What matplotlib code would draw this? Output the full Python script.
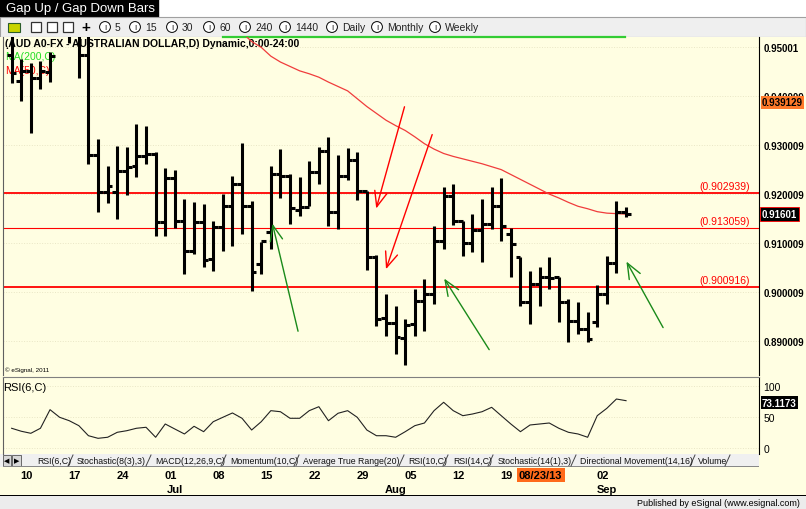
import matplotlib
matplotlib.use('Agg')
import matplotlib.pyplot as plt
import matplotlib.transforms as mtrans
from matplotlib.patches import Rectangle
import numpy as np

plt.rcParams['font.family'] = ['Liberation Sans', 'DejaVu Sans']

# daily bars, AUD/USD, Jun 6 .. Sep 4 2013 (index 0 = Jun 6)
opens = [0.9485, 0.9431, 0.9452, 0.9437, 0.9450, 0.9540, 0.9575, 0.9530, 0.9484, 0.9280,
         0.9204, 0.9204, 0.9248, 0.9257, 0.9278, 0.9282, 0.9143, 0.9233, 0.9145, 0.9084,
         0.9143, 0.9067, 0.9133, 0.9176, 0.9221, 0.9176, 0.9057, 0.9122, 0.9241, 0.9237,
         0.9167, 0.9174, 0.9245, 0.9288, 0.9163, 0.9237, 0.9270, 0.9206, 0.9071, 0.8947,
         0.8936, 0.8906, 0.8934, 0.8981, 0.8996, 0.9104, 0.9196, 0.9145, 0.9100, 0.9127,
         0.9139, 0.9176, 0.9118, 0.9071, 0.8979, 0.9016, 0.9030, 0.9030, 0.8979, 0.8940,
         0.8924, 0.8938, 0.8996, 0.9059, 0.9163]
highs = [0.9545, 0.9476, 0.9468, 0.9472, 0.9490, 0.9600, 0.9590, 0.9545, 0.9535, 0.9313,
         0.9257, 0.9298, 0.9296, 0.9343, 0.9339, 0.9286, 0.9253, 0.9249, 0.9190, 0.9184,
         0.9180, 0.9145, 0.9200, 0.9237, 0.9304, 0.9186, 0.9102, 0.9257, 0.9292, 0.9241,
         0.9235, 0.9268, 0.9296, 0.9317, 0.9280, 0.9294, 0.9286, 0.9206, 0.9075, 0.8996,
         0.8971, 0.8944, 0.9006, 0.9026, 0.9135, 0.9214, 0.9221, 0.9145, 0.9159, 0.9190,
         0.9214, 0.9233, 0.9131, 0.9071, 0.9043, 0.9051, 0.9071, 0.9030, 0.8985, 0.8979,
         0.8959, 0.9014, 0.9073, 0.9186, 0.9174]
lows = [0.9427, 0.9390, 0.9325, 0.9415, 0.9429, 0.9528, 0.9509, 0.9437, 0.9262, 0.9163,
        0.9182, 0.9149, 0.9198, 0.9235, 0.9262, 0.9114, 0.9114, 0.9131, 0.9037, 0.9077,
        0.9051, 0.9043, 0.9084, 0.9094, 0.9118, 0.9002, 0.9037, 0.9088, 0.9192, 0.9139,
        0.9155, 0.9176, 0.9221, 0.9135, 0.9129, 0.9229, 0.9188, 0.9045, 0.8930, 0.8910,
        0.8873, 0.8850, 0.8910, 0.8920, 0.8975, 0.9088, 0.9137, 0.9073, 0.9082, 0.9061,
        0.9129, 0.9104, 0.9030, 0.8971, 0.8934, 0.8971, 0.9006, 0.8938, 0.8898, 0.8914,
        0.8898, 0.8928, 0.8975, 0.9039, 0.9153]
closes = [0.9448, 0.9452, 0.9437, 0.9452, 0.9482, 0.9580, 0.9530, 0.9484, 0.9280, 0.9204,
          0.9217, 0.9248, 0.9255, 0.9278, 0.9282, 0.9143, 0.9233, 0.9145, 0.9084, 0.9143,
          0.9065, 0.9133, 0.9176, 0.9221, 0.9176, 0.9041, 0.9104, 0.9241, 0.9237, 0.9172,
          0.9174, 0.9245, 0.9288, 0.9163, 0.9237, 0.9270, 0.9206, 0.9071, 0.8945, 0.8936,
          0.8908, 0.8932, 0.8981, 0.8996, 0.9104, 0.9196, 0.9145, 0.9100, 0.9127, 0.9139,
          0.9176, 0.9135, 0.9098, 0.8979, 0.9016, 0.9030, 0.9028, 0.8979, 0.8940, 0.8924,
          0.8904, 0.8996, 0.9059, 0.9163, 0.9160]

# MA(50,C) - only the visible part (bars 24..64)
ma_start = 24
ma50 = [0.9530, 0.9512, 0.9500, 0.9482, 0.9470, 0.9461, 0.9452, 0.9446, 0.9439, 0.9429,
        0.9420, 0.9411, 0.9395, 0.9379, 0.9365, 0.9351, 0.9340, 0.9330, 0.9317, 0.9303,
        0.9292, 0.9283, 0.9277, 0.9272, 0.9267, 0.9262, 0.9256, 0.9250, 0.9240, 0.9230,
        0.9220, 0.9210, 0.9200, 0.9192, 0.9183, 0.9175, 0.9170, 0.9164, 0.9161, 0.9160,
        0.9159]

rsi6 = [31.8, 27.0, 23.7, 31.8, 61.8, 49.5, 44.0, 36.0, 19.8, 15.6,
        17.3, 25.3, 27.9, 31.8, 33.4, 17.3, 38.7, 30.6, 22.6, 35.0,
        26.3, 42.4, 49.5, 56.5, 47.9, 29.0, 42.4, 60.2, 58.5, 47.9,
        47.9, 60.2, 66.6, 44.0, 56.0, 60.2, 49.5, 29.0, 19.8, 19.8,
        17.3, 26.3, 36.0, 40.3, 60.2, 73.7, 60.2, 52.1, 54.8, 58.5,
        65.6, 52.1, 38.7, 26.3, 37.1, 38.7, 40.3, 31.8, 25.3, 22.6,
        17.3, 52.1, 64.0, 79.0, 76.3]

level_vals = [0.92016, 0.91300, 0.90106]
level_text = ['(0.902939)', '(0.913059)', '(0.900916)']
level_lw = [1.3, 0.8, 1.3]

price_ticks = [0.95001, 0.940009, 0.930009, 0.920009, 0.910009, 0.900009, 0.890009]
price_lbls = ['0.95001', '0.940009', '0.930009', '0.920009', '0.910009', '0.900009', '0.890009']

day_idx = [2, 7, 12, 17, 22, 27, 32, 37, 42, 47, 52, 62]
day_lbl = ['10', '17', '24', '01', '08', '15', '22', '29', '05', '12', '19', '02']
month_idx = [17, 40, 62]
month_lbl = ['Jul', 'Aug', 'Sep']

# hand drawn arrows: (tail bar, tail price, tip bar, tip price)
red_arrows = [(41.0, 0.9384, 37.9, 0.9165), (43.9, 0.9327, 38.9, 0.9041)]
green_arrows = [(29.9, 0.8914, 27.1, 0.9145), (49.9, 0.8877, 44.9, 0.9032), (68.0, 0.8922, 63.9, 0.9067)]

tabs = ['RSI(6,C)', 'Stochastic(8(3),3)', 'MACD(12,26,9,C)', 'Momentum(10,C)',
        'Average True Range(20)', 'RSI(10,C)', 'RSI(14,C)', 'Stochastic(14(1),3)',
        'Directional Movement(14,16)', 'Volume']
tools = ['5', '15', '30', '60', '240', '1440', 'Daily', 'Monthly', 'Weekly']

W, H = 806, 510
BG = '#FFFEE2'
fig = plt.figure(figsize=(W / 100, H / 100), dpi=100)
fig.patch.set_facecolor('white')


def box(l, t, r, b):
    return [l / W, 1 - b / H, (r - l) / W, (b - t) / H]


def rect(l, t, r, b, z=-1, **kw):
    fig.patches.append(Rectangle((l / W, 1 - b / H), (r - l) / W, (b - t) / H,
                                 transform=fig.transFigure, zorder=z, **kw))


def ftext(px, py, s, **kw):
    fig.text(px / W, 1 - py / H, s, **kw)


# window chrome
rect(0, 0, 158, 18, color='black')
ftext(6, 9, 'Gap Up / Gap Down Bars', color='white', fontsize=9.5, va='center')
rect(0, 18, W, 38, fc='#EFEFEF', ec='#A0A0A0', lw=0.8)
rect(0, 38, W, 497, fc=BG, ec='none')
rect(0, 455, 759, 468, fc='#F0F0F0', ec='none')
rect(0, 497, W, H, fc='#ECECEC', ec='none')
rect(0, 496, W, 497, fc='black', ec='none')

# toolbar icons
rect(8, 24, 20, 33, fc='#C8D400', ec='#2B5D2B', lw=0.8)
for l in [31, 47, 63]:
    rect(l, 23, l + 10, 33, fc='white', ec='#333333', lw=0.9)
ftext(86, 28, '+', fontsize=11, fontweight='bold', ha='center', va='center')
tool_x = [105, 135, 172, 209, 245, 285, 332, 377, 435]
for tx, tl in zip(tool_x, tools):
    ftext(tx, 28, 'I', fontsize=5.5, ha='center', va='center',
          bbox=dict(boxstyle='circle,pad=0.25', fc='white', ec='black', lw=0.7))
    ftext(tx + 10, 28, tl, fontsize=7.5, va='center', color='#222222')

# ---------------- price panel ----------------
ax = fig.add_axes(box(3, 38, 759, 376))
ax.set_facecolor(BG)
x = np.arange(len(closes))
ax.vlines(x, lows, highs, color='black', lw=2.2, zorder=4)
ax.hlines(opens, x - 0.5, x, color='black', lw=2.2, zorder=4)
ax.hlines(closes, x, x + 0.5, color='black', lw=2.2, zorder=4)

xm = np.arange(ma_start, ma_start + len(ma50))
ax.plot(xm, ma50, color='#F03C3C', lw=0.9, zorder=3)

for v, t, lw in zip(level_vals, level_text, level_lw):
    ax.axhline(v, color='red', lw=lw, zorder=2)
    ax.text(76.9, v + 0.0004, t, color='red', fontsize=7.5, ha='right', va='bottom', zorder=2)

for a in red_arrows:
    ax.annotate('', xy=(a[2], a[3]), xytext=(a[0], a[1]), zorder=5,
                arrowprops=dict(arrowstyle='->,head_length=1.1,head_width=0.45', color='red', lw=1.0))
for a in green_arrows:
    ax.annotate('', xy=(a[2], a[3]), xytext=(a[0], a[1]), zorder=5,
                arrowprops=dict(arrowstyle='->,head_length=1.1,head_width=0.45', color='#1A8A1A', lw=1.0))

ax.set_xlim(-0.9, 77.85)
ax.set_ylim(0.88300, 0.95212)
ax.set_xticks([])
ax.yaxis.tick_right()
ax.set_yticks(price_ticks)
ax.set_yticklabels(price_lbls, fontsize=7, fontweight='bold')
ax.tick_params(axis='y', length=0, pad=3)
ax.grid(axis='y', color='#E9E6C6', ls=':', lw=0.7)
for s in ['top', 'bottom']:
    ax.spines[s].set_visible(False)
ax.spines['left'].set_color('#606060')
ax.spines['right'].set_color('black')

ax.text(0.003, 0.982, '(AUD A0-FX - AUSTRALIAN DOLLAR,D) Dynamic,0:00-24:00', transform=ax.transAxes,
        fontsize=7.5, fontweight='bold', va='center', zorder=1)
ax.text(0.003, 0.944, 'MA(200,C)', color='#22DD22', transform=ax.transAxes, fontsize=7.5, va='center', zorder=1)
ax.text(0.003, 0.902, 'MA(50,C)', color='red', transform=ax.transAxes, fontsize=7.5, va='center', zorder=1)
ax.text(0.003, 0.018, '© eSignal, 2011', transform=ax.transAxes, fontsize=4.5, va='center')
ax.plot([22, 63.9], [0.9995, 0.9995], transform=mtrans.blended_transform_factory(ax.transData, ax.transAxes),
        color='#33CC33', lw=1.6, clip_on=False)

tr = mtrans.blended_transform_factory(ax.transAxes, ax.transData)
ax.text(1.004, 0.9388, '0.939129', transform=tr, fontsize=7, fontweight='bold', va='center', color='black',
        zorder=6, bbox=dict(boxstyle='square,pad=0.15', fc='#FF7A2A', ec='none'))
ax.text(1.004, closes[-1], '0.91601', transform=tr, fontsize=7, fontweight='bold', va='center', color='white',
        zorder=6, bbox=dict(boxstyle='square,pad=0.2', fc='black', ec='red', lw=0.6))

# ---------------- RSI panel ----------------
axr = fig.add_axes(box(3, 378, 759, 455))
axr.set_facecolor(BG)
axr.plot(x, rsi6, color='#222222', lw=0.8)
axr.set_xlim(-0.9, 77.85)
axr.set_ylim(-9.7, 114.5)
axr.set_xticks([])
axr.yaxis.tick_right()
axr.set_yticks([0, 50, 100])
axr.set_yticklabels(['0', '50', '100'], fontsize=7.5)
axr.tick_params(axis='y', length=0, pad=3)
axr.grid(axis='y', color='#E9E6C6', ls=':', lw=0.7)
axr.spines['top'].set_color('#808080')
axr.spines['bottom'].set_visible(False)
axr.spines['left'].set_color('#606060')
axr.spines['right'].set_color('black')
axr.text(0.0, 0.87, 'RSI(6,C)', transform=axr.transAxes, fontsize=8, va='center')
trr = mtrans.blended_transform_factory(axr.transAxes, axr.transData)
axr.text(1.004, 73.1, '73.1173', transform=trr, fontsize=7, fontweight='bold', va='center', color='white',
         bbox=dict(boxstyle='square,pad=0.15', fc='black', ec='none'))

# tab row
rect(3, 456, 11, 467, z=1, fc='#D8D8D8', ec='#555555', lw=0.6)
rect(12, 456, 21, 467, z=1, fc='#D8D8D8', ec='#555555', lw=0.6)
ftext(7, 461.5, '◀', fontsize=5, ha='center', va='center')
ftext(16.5, 461.5, '▶', fontsize=5, ha='center', va='center')
tab_x = [37, 77, 155, 230, 303, 408, 453, 498, 580, 698]
tab_end = [71, 149, 224, 297, 402, 446, 491, 574, 693, 728]
for tx, te, tl in zip(tab_x, tab_end, tabs):
    ftext(tx, 462, tl, fontsize=6.3, va='center', color='#111111')
    fig.add_artist(plt.Line2D([(te - 3) / W, (te + 2) / W], [1 - 467 / H, 1 - 456 / H],
                              transform=fig.transFigure, color='#444444', lw=0.7))
rect(3, 467, 759, 468, z=1, fc='#888888', ec='none')

# ---------------- date axis ----------------
axd = fig.add_axes(box(3, 468, 759, 496))
axd.set_xlim(-0.9, 77.85)
axd.set_ylim(0, 1)
axd.axis('off')
for i, lbl in zip(day_idx, day_lbl):
    axd.text(i - 0.45, 0.72, lbl, fontsize=8, fontweight='bold', ha='center', va='center')
for i, lbl in zip(month_idx, month_lbl):
    axd.text(i, 0.22, lbl, fontsize=8, fontweight='bold', ha='center', va='center')
axd.text(56 - 0.9, 0.72, '08/23/13', fontsize=8, fontweight='bold', ha='center', va='center',
         bbox=dict(boxstyle='square,pad=0.2', fc='#FF6A1A', ec='none'))

ftext(800, 503.5, 'Published by eSignal (www.esignal.com)', fontsize=6.5, ha='right', va='center')

fig.savefig('out.png', dpi=100)
